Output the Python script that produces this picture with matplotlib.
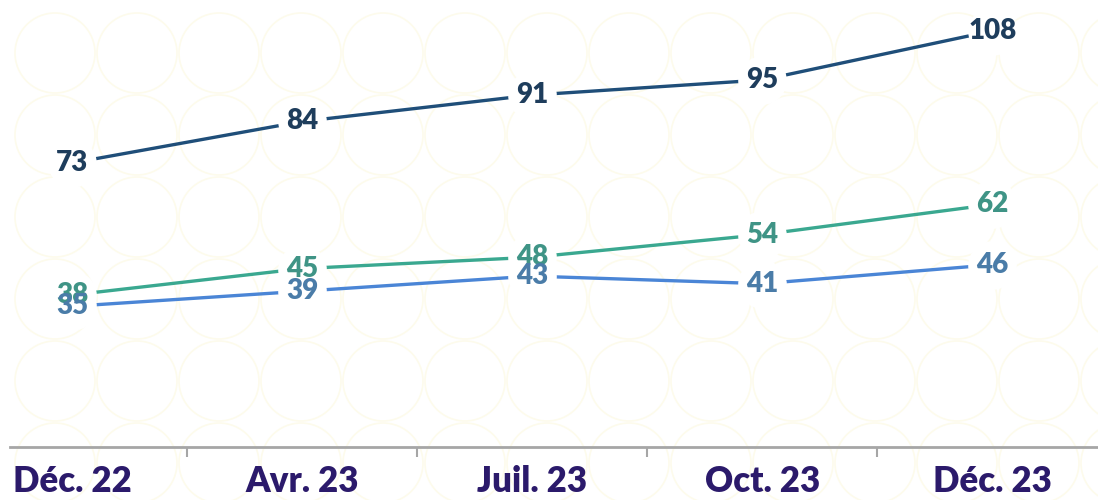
import matplotlib.pyplot as plt
from matplotlib.patches import Circle

plt.rcParams['font.family'] = ['Lato', 'DejaVu Sans']

periods = ['Déc. 22', 'Avr. 23', 'Juil. 23', 'Oct. 23', 'Déc. 23']
serie_haute = [73, 84, 91, 95, 108]
serie_verte = [38, 45, 48, 54, 62]
serie_bleue = [35, 39, 43, 41, 46]

fig = plt.figure(figsize=(10.98, 5.0), dpi=100)

# faint decorative circle pattern in the background
for row in range(6):
    for col in range(14):
        c = Circle((55 + col * 82, 500 - (53 + row * 82)), 40, transform=None,
                   fill=False, edgecolor='#fdfbec', lw=1.2, zorder=-5)
        fig.patches.append(c)

ax = fig.add_axes([10 / 1098, 53 / 500, 1 - 10 / 1098, 447 / 500])
ax.patch.set_alpha(0)
ax.set_zorder(1)

x = list(range(len(periods)))
series = [
    (serie_haute, '#1f4e79', '#1e3d5c'),
    (serie_verte, '#3aa890', '#3f9486'),
    (serie_bleue, '#4a85d6', '#4a7ca8'),
]
for vals, lc, tc in series:
    ax.plot(x, vals, color=lc, lw=2.4, zorder=2, solid_capstyle='butt')
    # white disc hiding the line under each label
    ax.plot(x, vals, 'o', ms=35, mfc='white', mec='none', zorder=3)
for vals, lc, tc in series:
    for xi, v in zip(x, vals):
        ax.text(xi, v, str(v), ha='center', va='center', fontsize=20,
                fontweight='heavy', color=tc, zorder=4)

ax.set_xlim(-0.27, 4.46)
ax.set_ylim(-2.3, 116.2)
ax.set_yticks([])
for s in ['top', 'right', 'left']:
    ax.spines[s].set_visible(False)
ax.spines['bottom'].set_color('#a6a6a6')
ax.spines['bottom'].set_linewidth(2)

ax.set_xticks(x)
ax.set_xticklabels(periods, fontsize=25, fontweight='heavy', color='#2b1a6b')
ax.tick_params(axis='x', length=0, pad=13)
ax.set_xticks([i + 0.5 for i in range(len(periods) - 1)], minor=True)
ax.tick_params(axis='x', which='minor', length=7, width=1.5, color='#a6a6a6')

fig.savefig('out.png', dpi=100)
